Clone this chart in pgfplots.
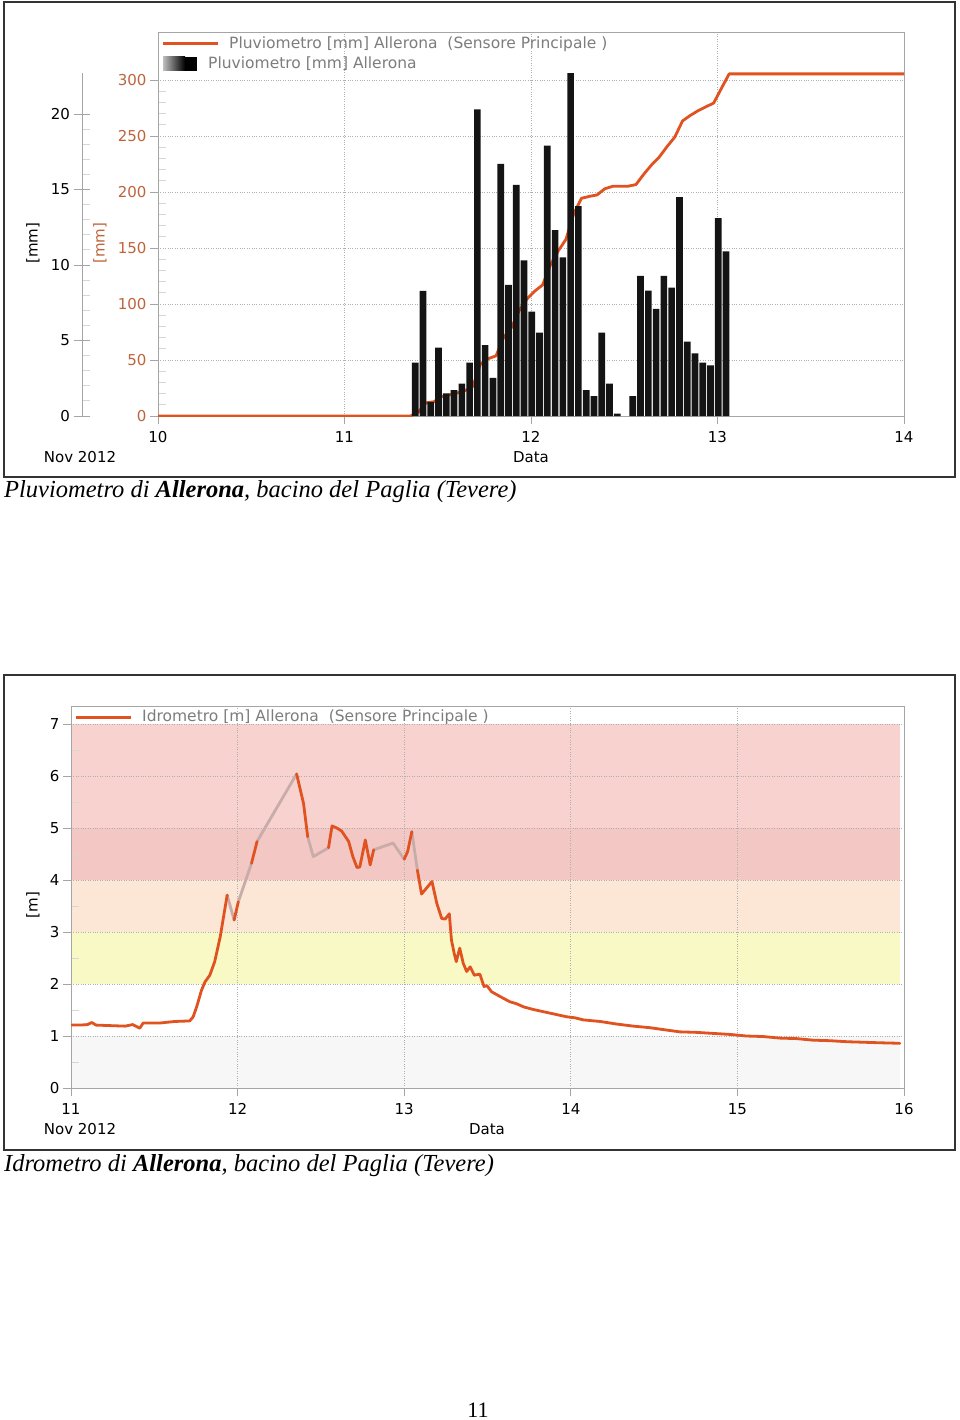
\documentclass[border=0pt]{standalone}
\usepackage{fontspec}
\setmainfont{Liberation Serif}
\newfontfamily\chartfont{DejaVu Sans}
\usepackage{pgfplots}
\pgfplotsset{compat=1.18}

\definecolor{rainline}{RGB}{224,82,32}
\definecolor{lblorange}{RGB}{190,100,60}
\definecolor{interp}{RGB}{200,172,170}
\definecolor{gridgray}{RGB}{175,175,175}
\definecolor{axgray}{RGB}{165,165,165}
\definecolor{legtext}{RGB}{125,125,125}
\definecolor{bandred}{RGB}{247,210,206}
\definecolor{bandred2}{RGB}{243,199,195}
\definecolor{bandpeach}{RGB}{252,230,214}
\definecolor{bandyellow}{RGB}{249,249,198}
\definecolor{bandgray}{RGB}{247,247,247}

\pgfplotsset{
  chart/.style={
    scale only axis,
    anchor=south west,
    font=\chartfont\fontsize{15}{17}\selectfont,
    /pgf/number format/assume math mode=true,
    axis line style={axgray, line width=1pt},
    grid=major,
    major grid style={gridgray, dotted, line width=0.9pt},
    tick style={axgray, line width=0.9pt},
    xtick pos=bottom, ytick pos=left,
    tick align=outside,
    major tick length=8pt,
    minor tick length=8pt,
    xticklabel style={yshift=-4pt},
  },
  bandaxis/.style={
    scale only axis, anchor=south west, hide axis,
  }
}

\begin{document}
\begin{tikzpicture}
\path[use as bounding box, fill=white] (0pt,0pt) rectangle (960pt,-1420pt);

% ---------------- top chart: rain gauge ----------------
\begin{axis}[chart,
  at={(158pt,-416pt)}, width=746pt, height=383pt,
  xmin=0, xmax=96, ymin=0, ymax=342,
  xtick={0,24,...,96}, xticklabels={10,11,12,13,14},
  ytick={0,50,...,300}, minor y tick num=4,
  minor tick style={axgray!45, xshift=8pt},
  yticklabel style={text=lblorange},
]
% cumulative rain (value at end of each hour)
\addplot[rainline, line width=2.8pt, line join=round] coordinates {
  (0,0)(32.5,0)(33.5,3.5)(34.5,11.8)(35.5,12.7)(36.5,17.3)(37.5,18.8)
  (38.5,20.5)(39.5,22.6)(40.5,26.2)(41.5,46.5)(42.5,51.2)(43.5,53.7)
  (44.5,70.4)(45.5,79.1)(46.5,94.4)(47.5,104.7)(48.5,111.6)(49.5,117.1)
  (50.5,135.0)(51.5,147.3)(52.5,157.8)(53.5,180.5)(54.5,194.4)(55.5,196.1)
  (56.5,197.4)(57.5,202.9)(58.5,205.1)(59.5,205.2)(60.5,205.2)(61.5,206.6)
  (62.5,215.8)(63.5,224.1)(64.5,231.2)(65.5,240.5)(66.5,249.0)(67.5,263.5)
  (68.5,268.4)(69.5,272.6)(70.5,276.1)(71.5,279.4)(72.5,292.5)(73.5,305.5)
  (96,305.5)
};
\end{axis}

\begin{axis}[bandaxis,
  at={(158pt,-416pt)}, width=746pt, height=383pt,
  xmin=0, xmax=96, ymin=0, ymax=25.36,
]
% hourly rain
\addplot[ybar, bar width=0.86, draw=none, fill=black!92] coordinates {
  (33.1,3.53)(34.1,8.28)(35.1,0.93)(36.1,4.52)(37.1,1.50)(38.1,1.72)
  (39.1,2.14)(40.1,3.53)(41.1,20.3)(42.1,4.70)(43.1,2.52)(44.1,16.7)
  (45.1,8.68)(46.1,15.3)(47.1,10.3)(48.1,6.91)(49.1,5.52)(50.1,17.9)
  (51.1,12.3)(52.1,10.5)(53.1,22.7)(54.1,13.9)(55.1,1.72)(56.1,1.32)
  (57.1,5.52)(58.1,2.14)(59.1,0.15)(61.1,1.32)(62.1,9.27)(63.1,8.30)
  (64.1,7.09)(65.1,9.27)(66.1,8.50)(67.1,14.5)(68.1,4.92)(69.1,4.15)
  (70.1,3.53)(71.1,3.36)(72.1,13.1)(73.1,10.9)
};
\end{axis}

% outer [mm] scale
\begin{axis}[chart,
  at={(82pt,-416pt)}, width=1pt, height=342.7pt,
  xmin=0, xmax=1, ymin=0, ymax=22.7,
  axis x line=none, axis y line*=left, grid=none,
  xtick=\empty, ytick={0,5,...,20}, minor y tick num=4,
  tick align=center, major tick length=17pt,
  minor tick style={axgray!45, xshift=4pt},
]
\end{axis}

% ---------------- bottom chart: water level ----------------
\begin{axis}[bandaxis,
  at={(71pt,-1088pt)}, width=833pt, height=382pt,
  xmin=0, xmax=120, ymin=0, ymax=7.346,
]
\addplot[draw=none, fill=bandgray] coordinates {(0,0)(119.4,0)(119.4,1)(0,1)} -- cycle;
\addplot[draw=none, fill=bandyellow] coordinates {(0,2)(119.4,2)(119.4,3)(0,3)} -- cycle;
\addplot[draw=none, fill=bandpeach] coordinates {(0,3)(119.4,3)(119.4,4)(0,4)} -- cycle;
\addplot[draw=none, fill=bandred2] coordinates {(0,4)(119.4,4)(119.4,5)(0,5)} -- cycle;
\addplot[draw=none, fill=bandred] coordinates {(0,5)(119.4,5)(119.4,7)(0,7)} -- cycle;
\end{axis}

\begin{axis}[chart,
  at={(71pt,-1088pt)}, width=833pt, height=382pt,
  xmin=0, xmax=120, ymin=0, ymax=7.346,
  xtick={0,24,...,120}, xticklabels={11,12,13,14,15,16},
  ytick={0,...,7}, minor y tick num=1,
  minor tick style={axgray!45, xshift=8pt},
  every axis plot/.append style={line width=2.8pt, line join=round, line cap=round},
]
% interpolated gaps
\addplot[interp] coordinates {(22.5,3.71)(23.5,3.23)};
\addplot[interp] coordinates {(24.1,3.58)(26.0,4.32)};
\addplot[interp] coordinates {(26.8,4.74)(32.5,6.04)};
\addplot[interp] coordinates {(34.1,4.83)(34.9,4.45)(37.1,4.62)};
\addplot[interp] coordinates {(43.6,4.58)(46.4,4.71)(48.0,4.40)};
\addplot[interp] coordinates {(49.1,4.93)(49.9,4.19)};
% measured level
\addplot[rainline] coordinates {
  (0.1,1.21)(1.3,1.21)(2.4,1.22)(3.0,1.26)(3.6,1.21)(5.6,1.20)(7.8,1.19)
  (8.9,1.22)(9.9,1.15)(10.4,1.25)(12.8,1.25)(15.0,1.28)(17.1,1.29)
  (17.6,1.37)(18.1,1.56)(18.8,1.88)(19.3,2.04)(20.0,2.17)(20.7,2.43)
  (21.5,2.91)(22.5,3.71)
};
\addplot[rainline] coordinates {(23.5,3.23)(24.1,3.58)};
\addplot[rainline] coordinates {(26.0,4.32)(26.8,4.74)};
\addplot[rainline] coordinates {(32.5,6.04)(33.5,5.47)(34.1,4.83)};
\addplot[rainline] coordinates {
  (37.1,4.62)(37.6,5.04)(38.3,5.00)(39.0,4.94)(40.0,4.74)(40.6,4.45)
  (41.2,4.24)(41.6,4.25)(42.4,4.77)(43.1,4.29)(43.6,4.58)
};
\addplot[rainline] coordinates {(48.0,4.40)(48.5,4.55)(49.1,4.93)};
\addplot[rainline] coordinates {
  (49.9,4.19)(50.5,3.73)(52.0,3.97)(52.7,3.55)(53.4,3.26)(53.9,3.25)
  (54.5,3.35)(54.8,2.85)(55.2,2.59)(55.5,2.43)(56.0,2.69)(56.5,2.40)
  (57.0,2.24)(57.5,2.33)(58.1,2.17)(58.9,2.19)(59.5,1.95)(59.9,1.97)
  (60.6,1.85)(61.8,1.76)(63.2,1.66)(64.2,1.62)(65.2,1.56)(66.6,1.51)
  (69.0,1.44)(71.4,1.37)(72.6,1.35)(73.8,1.31)(76.2,1.28)(78.6,1.23)
  (81.0,1.19)(83.4,1.16)(85.5,1.12)(87.7,1.08)(90.1,1.07)(92.5,1.05)
  (95.0,1.03)(97.3,1.00)(99.7,0.99)(102.1,0.96)(104.5,0.95)(106.9,0.92)
  (109.3,0.91)(111.8,0.89)(114.2,0.88)(116.5,0.87)(119.4,0.86)
};
\end{axis}

% ---------------- frames, legends, labels ----------------
\draw[black!80, line width=1.4pt] (4pt,-2pt) rectangle (955pt,-477pt);
\draw[black!80, line width=1.4pt] (4pt,-675pt) rectangle (955pt,-1150pt);

\begin{scope}[font=\chartfont\fontsize{15.5}{18}\selectfont]
  \draw[rainline, line width=3pt] (163pt,-44pt) -- (218pt,-44pt);
  \node[anchor=west, text=legtext, inner sep=0pt] at (229pt,-44pt) {Pluviometro [mm] Allerona\ \ (Sensore Principale )};
  \shade[left color=black!25, right color=black] (163pt,-57pt) rectangle (185pt,-71pt);
  \fill[black] (185pt,-57pt) rectangle (197pt,-71pt);
  \node[anchor=west, text=legtext, inner sep=0pt] at (208pt,-64pt) {Pluviometro [mm] Allerona};
  \draw[rainline, line width=3pt] (76pt,-717pt) -- (131pt,-717pt);
  \node[anchor=west, text=legtext, inner sep=0pt] at (142pt,-717pt) {Idrometro [m] Allerona\ \ (Sensore Principale )};
\end{scope}
\begin{scope}[font=\chartfont\fontsize{15}{17}\selectfont]
  \node at (80pt,-457pt) {Nov 2012};
  \node at (531pt,-457pt) {Data};
  \node[rotate=90] at (33pt,-243pt) {[mm]};
  \node[rotate=90, text=lblorange] at (100pt,-243pt) {[mm]};
  \node at (80pt,-1129pt) {Nov 2012};
  \node at (487pt,-1129pt) {Data};
  \node[rotate=90] at (33pt,-905pt) {[m]};
\end{scope}

\node[anchor=west, inner sep=0pt, font=\fontsize{24.5}{28}\selectfont\itshape] at (4pt,-492pt)
  {Pluviometro di \textbf{Allerona}, bacino del Paglia (Tevere)};
\node[anchor=west, inner sep=0pt, font=\fontsize{24.5}{28}\selectfont\itshape] at (4pt,-1166pt)
  {Idrometro di \textbf{Allerona}, bacino del Paglia (Tevere)};
\node[font=\fontsize{22}{26}\selectfont] at (478pt,-1410pt) {11};
\end{tikzpicture}
\end{document}
